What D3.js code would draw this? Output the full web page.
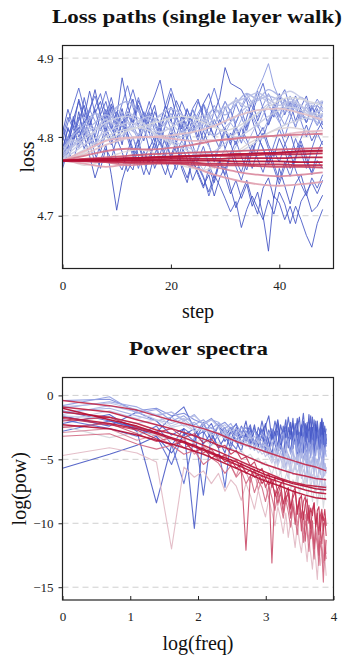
<!DOCTYPE html>
<html>
<head>
<meta charset="utf-8">
<script src="https://cdn.jsdelivr.net/npm/d3@7"></script>
<style>
body { margin: 0; background: #fff; }
svg { display: block; }
</style>
</head>
<body>
<div id="chart"></div>
<script>
// ---------- loss paths (top) ----------
var lossSteps = [0,1,2,3,4,5,6,7,8,9,10,11,12,13,14,15,16,17,18,19,20,21,22,23,24,25,26,27,28,29,30,31,32,33,34,35,36,37,38,39,40,41,42,43,44,45,46,47,48];
var lossHalfSteps = [0,2,4,6,8,10,12,14,16,18,20,22,24,26,28,30,32,34,36,38,40,42,44,46,48];
var lossKnotSteps = [0,4,8,12,16,20,24,28,32,36,40,44,48];
var lossTicks = [4.7, 4.8, 4.9];
var stepTicks = [0, 20, 40];

// jagged walks (one value per step)
var lossNoisyT = [0.0, 0.01, 0.02, 0.03, 0.04, 0.05, 0.07, 0.09, 0.11, 0.13, 0.08, 0.14, 0.18, 0.23, 0.27, 0.31];
var lossNoisy = [
  [4.780,4.812,4.795,4.832,4.801,4.776,4.748,4.770,4.790,4.752, 4.707,4.745,4.768,4.758,4.790,4.812,4.785,4.801,4.770,4.752, 4.776,4.795,4.760,4.742,4.771,4.755,4.738,4.752,4.725,4.748, 4.762,4.735,4.710,4.728,4.745,4.720,4.702,4.735,4.748,4.722, 4.760,4.738,4.715,4.741,4.752,4.728,4.705,4.712,4.726],
  [4.800,4.785,4.822,4.845,4.818,4.832,4.860,4.828,4.805,4.838, 4.815,4.790,4.826,4.848,4.812,4.795,4.822,4.840,4.808,4.830, 4.855,4.826,4.810,4.835,4.818,4.800,4.842,4.855,4.830,4.850, 4.888,4.868,4.864,4.860,4.846,4.822,4.800,4.812,4.790,4.775, 4.798,4.782,4.760,4.775,4.790,4.768,4.755,4.780,4.795],
  [4.770,4.792,4.815,4.788,4.802,4.826,4.798,4.781,4.805,4.790, 4.812,4.836,4.804,4.780,4.796,4.770,4.788,4.760,4.778,4.801, 4.772,4.790,4.765,4.748,4.770,4.752,4.735,4.760,4.742,4.768, 4.750,4.728,4.745,4.722,4.740,4.712,4.730,4.700,4.655,4.725, 4.716,4.695,4.712,4.690,4.718,4.730,4.742,4.728,4.745],
  [4.790,4.770,4.795,4.812,4.785,4.803,4.778,4.760,4.785,4.772, 4.798,4.781,4.756,4.772,4.790,4.768,4.752,4.778,4.795,4.770, 4.748,4.766,4.788,4.772,4.745,4.762,4.748,4.730,4.752,4.738, 4.722,4.705,4.718,4.685,4.708,4.725,4.710,4.695,4.720,4.702, 4.730,4.715,4.690,4.712,4.695,4.675,4.660,4.690,4.708],
  [4.805,4.835,4.812,4.848,4.825,4.858,4.830,4.845,4.818,4.842, 4.826,4.875,4.840,4.818,4.846,4.828,4.805,4.832,4.815,4.840, 4.822,4.800,4.826,4.810,4.835,4.818,4.795,4.815,4.800,4.822, 4.808,4.790,4.812,4.798,4.825,4.846,4.820,4.838,4.815,4.832, 4.855,4.828,4.845,4.820,4.838,4.852,4.826,4.840,4.832],
  [4.785,4.810,4.795,4.822,4.840,4.815,4.835,4.808,4.826,4.850, 4.822,4.805,4.832,4.815,4.840,4.818,4.835,4.852,4.872,4.838, 4.820,4.846,4.830,4.812,4.836,4.848,4.825,4.802,4.822,4.808, 4.785,4.805,4.790,4.812,4.796,4.778,4.800,4.786,4.765,4.782, 4.768,4.790,4.805,4.782,4.798,4.815,4.795,4.808,4.820],
  [4.775,4.798,4.822,4.800,4.815,4.790,4.768,4.792,4.812,4.795, 4.770,4.758,4.782,4.800,4.776,4.752,4.775,4.792,4.768,4.785, 4.805,4.780,4.795,4.815,4.790,4.770,4.788,4.765,4.748,4.770, 4.758,4.780,4.762,4.745,4.768,4.790,4.772,4.755,4.778,4.760, 4.740,4.762,4.780,4.758,4.740,4.725,4.748,4.735,4.752],
  [4.795,4.818,4.840,4.862,4.835,4.812,4.838,4.855,4.828,4.810, 4.832,4.815,4.838,4.860,4.835,4.812,4.830,4.808,4.790,4.815, 4.838,4.822,4.845,4.828,4.806,4.825,4.842,4.818,4.800,4.785, 4.808,4.795,4.818,4.835,4.812,4.830,4.850,4.868,4.842,4.825, 4.848,4.860,4.838,4.852,4.835,4.818,4.840,4.825,4.810],
  [4.760,4.782,4.770,4.795,4.820,4.805,4.790,4.815,4.835,4.812, 4.796,4.820,4.805,4.785,4.760,4.782,4.768,4.795,4.815,4.792, 4.775,4.758,4.780,4.800,4.782,4.765,4.750,4.725,4.745,4.770, 4.752,4.778,4.795,4.775,4.758,4.782,4.802,4.785,4.768,4.790, 4.810,4.792,4.775,4.798,4.780,4.760,4.785,4.805,4.790],
  [4.800,4.825,4.810,4.790,4.812,4.836,4.852,4.828,4.812,4.795, 4.820,4.842,4.865,4.838,4.815,4.832,4.812,4.795,4.818,4.840, 4.862,4.840,4.818,4.800,4.822,4.845,4.828,4.810,4.832,4.815, 4.838,4.820,4.842,4.825,4.808,4.830,4.815,4.798,4.820,4.842, 4.825,4.848,4.830,4.812,4.835,4.818,4.838,4.822,4.845],
  [4.815,4.790,4.826,4.805,4.850,4.822,4.800,4.828,4.845,4.818, 4.795,4.820,4.798,4.775,4.800,4.822,4.845,4.820,4.798,4.776, 4.800,4.825,4.805,4.785,4.762,4.785,4.808,4.790,4.768,4.790, 4.812,4.792,4.770,4.755,4.778,4.760,4.782,4.805,4.785,4.765, 4.745,4.768,4.750,4.772,4.795,4.775,4.752,4.770,4.760],
  [4.765,4.780,4.802,4.825,4.808,4.790,4.812,4.835,4.858,4.832, 4.810,4.830,4.808,4.826,4.850,4.828,4.805,4.785,4.806,4.828, 4.810,4.792,4.815,4.836,4.815,4.795,4.818,4.840,4.862,4.838, 4.816,4.835,4.812,4.792,4.815,4.835,4.858,4.836,4.815,4.838, 4.820,4.800,4.822,4.842,4.820,4.800,4.818,4.836,4.815],
  [4.785,4.800,4.815,4.805,4.822,4.835,4.820,4.808,4.825,4.840, 4.826,4.812,4.828,4.815,4.800,4.818,4.832,4.820,4.805,4.792, 4.810,4.825,4.812,4.798,4.815,4.830,4.842,4.828,4.815,4.830, 4.845,4.832,4.818,4.835,4.850,4.838,4.825,4.840,4.855,4.842, 4.828,4.815,4.832,4.845,4.830,4.818,4.835,4.848,4.836],
  [4.775,4.790,4.805,4.795,4.812,4.800,4.788,4.802,4.818,4.806, 4.792,4.808,4.822,4.810,4.796,4.812,4.826,4.814,4.800,4.815, 4.830,4.818,4.805,4.820,4.835,4.822,4.810,4.826,4.840,4.828, 4.845,4.832,4.850,4.838,4.855,4.842,4.860,4.875,4.893,4.865, 4.848,4.835,4.852,4.838,4.825,4.842,4.828,4.815,4.830],
  [4.770,4.782,4.795,4.786,4.800,4.812,4.803,4.790,4.805,4.818, 4.808,4.795,4.810,4.798,4.785,4.800,4.812,4.802,4.790,4.778, 4.792,4.805,4.795,4.782,4.770,4.785,4.798,4.788,4.775,4.790, 4.805,4.818,4.808,4.822,4.835,4.825,4.812,4.828,4.840,4.830, 4.818,4.832,4.845,4.835,4.822,4.838,4.826,4.814,4.828],
  [4.780,4.792,4.805,4.815,4.808,4.820,4.830,4.822,4.812,4.825, 4.836,4.828,4.818,4.808,4.820,4.810,4.798,4.808,4.795,4.785, 4.796,4.786,4.775,4.765,4.778,4.768,4.758,4.770,4.760,4.772, 4.785,4.775,4.788,4.800,4.790,4.805,4.818,4.808,4.822,4.835, 4.825,4.838,4.828,4.815,4.826,4.838,4.828,4.818,4.826]
];

// wavy walks (every second step)
var lossWavyT = [0.30, 0.33, 0.36, 0.38, 0.40, 0.42, 0.44, 0.48, 0.52];
var lossWavy = [
  [4.785,4.802,4.815,4.830,4.822,4.838,4.845,4.832,4.820,4.812,4.825,4.818,4.810,4.822,4.835,4.828,4.842,4.855,4.848,4.860,4.852,4.840,4.850,4.838,4.845],
  [4.778,4.790,4.806,4.818,4.828,4.820,4.812,4.804,4.815,4.828,4.836,4.828,4.818,4.810,4.802,4.812,4.826,4.838,4.846,4.852,4.846,4.836,4.828,4.822,4.830],
  [4.775,4.788,4.800,4.812,4.805,4.798,4.808,4.820,4.826,4.818,4.808,4.800,4.806,4.818,4.830,4.838,4.845,4.850,4.856,4.848,4.840,4.845,4.838,4.830,4.835],
  [4.780,4.796,4.790,4.808,4.822,4.815,4.830,4.824,4.812,4.826,4.818,4.805,4.815,4.828,4.820,4.835,4.846,4.838,4.852,4.844,4.836,4.848,4.840,4.828,4.838],
  [4.772,4.780,4.790,4.798,4.806,4.812,4.818,4.815,4.808,4.800,4.795,4.790,4.784,4.778,4.782,4.792,4.805,4.818,4.830,4.842,4.852,4.858,4.850,4.842,4.846],
  [4.772,4.784,4.796,4.808,4.818,4.824,4.826,4.820,4.812,4.806,4.812,4.820,4.826,4.822,4.814,4.806,4.800,4.806,4.816,4.826,4.834,4.838,4.834,4.826,4.820],
  [4.770,4.776,4.784,4.792,4.800,4.806,4.810,4.812,4.808,4.800,4.792,4.786,4.780,4.775,4.770,4.772,4.778,4.786,4.795,4.805,4.812,4.818,4.822,4.826,4.830],
  [4.770,4.774,4.780,4.788,4.796,4.802,4.808,4.812,4.816,4.820,4.824,4.826,4.824,4.818,4.812,4.808,4.812,4.820,4.830,4.838,4.846,4.850,4.848,4.844,4.840],
  [4.770,4.768,4.764,4.766,4.772,4.778,4.782,4.784,4.782,4.776,4.770,4.764,4.760,4.758,4.762,4.770,4.780,4.790,4.798,4.805,4.810,4.812,4.810,4.806,4.802]
];

// smooth walks (every fourth step)
var lossSmoothT = [0.58, 0.62, 0.66, 0.70, 0.74, 0.80, 0.84, 0.87, 0.90, 0.93, 0.96, 0.98, 1.0];
var lossSmooth = [
  [4.770,4.778,4.790,4.798,4.800,4.802,4.806,4.814,4.826,4.834,4.836,4.830,4.822],
  [4.770,4.782,4.795,4.799,4.800,4.798,4.795,4.796,4.798,4.800,4.802,4.806,4.808],
  [4.770,4.766,4.762,4.766,4.772,4.770,4.762,4.752,4.745,4.740,4.738,4.740,4.743],
  [4.770,4.772,4.768,4.764,4.766,4.770,4.768,4.762,4.756,4.752,4.750,4.752,4.755],
  [4.770,4.776,4.782,4.785,4.784,4.786,4.790,4.795,4.798,4.800,4.802,4.803,4.804],
  [4.770,4.772,4.774,4.776,4.778,4.779,4.780,4.781,4.782,4.783,4.784,4.785,4.786],
  [4.770,4.769,4.768,4.767,4.766,4.766,4.765,4.764,4.764,4.763,4.762,4.762,4.761],
  [4.770,4.771,4.772,4.773,4.774,4.775,4.776,4.777,4.778,4.779,4.780,4.781,4.782],
  [4.770,4.770,4.769,4.768,4.768,4.767,4.767,4.766,4.766,4.765,4.765,4.764,4.764],
  [4.770,4.771,4.772,4.772,4.773,4.774,4.775,4.776,4.776,4.777,4.778,4.778,4.779],
  [4.770,4.770,4.771,4.771,4.771,4.772,4.772,4.772,4.773,4.773,4.773,4.774,4.774],
  [4.770,4.771,4.772,4.773,4.774,4.775,4.776,4.777,4.778,4.779,4.780,4.782,4.783],
  [4.770,4.770,4.770,4.770,4.770,4.770,4.770,4.770,4.769,4.769,4.769,4.768,4.768]
];

// ---------- power spectra (bottom) ----------
var specFreqs = [1,2,3,4,5,6,7,8,9,10,11,12,13,14,15,16,17,18,19,20,21,22,23,24,25,26,27,28,29,30,31,32,33,34,35,36,37,38,39,40,41,42,43,44,45,46,47,48,49];
var specKnotFreqs = [1,2,3,4,5,6,8,10,13,16,20,25,30,36,42,49];
var powTicks = [-15, -10, -5, 0];
var freqTicks = [0, 1, 2, 3, 4];

var specNoisyT = [0.0, 0.02, 0.04, 0.06, 0.09, 0.12, 0.18, 0.24, 0.27, 0.30, 0.33, 0.36, 0.39, 0.42, 0.48, 0.60, 0.70, 0.76, 0.82, 0.86, 0.90];
var specNoisy = [
  [-5.7,-4.6,-3.9,-3.2,-4.5,-3.1,-2.6,-3.8,-2.9,-4.1, -3.3,-2.5,-3.6,-4.4,-2.8,-3.5,-2.3,-4.0,-3.1,-2.2, -3.7,-4.6,-2.9,-1.9,-3.4,-4.8,-2.7,-3.6,-2.1,-4.2, -3.0,-1.8,-3.9,-2.6,-4.5,-2.2,-3.3,-1.5,-3.8,-2.5, -4.7,-2.0,-3.4,-2.8,-4.1,-1.9,-3.5,-2.4,-3.6],
  [-2.2,-1.5,-2.8,-8.4,-3.9,-2.6,-3.2,-2.1,-3.5,-2.4, -3.0,-4.2,-2.5,-3.3,-2.0,-3.8,-2.7,-3.1,-4.3,-2.4, -1.6,-3.4,-2.8,-4.0,-2.3,-3.2,-1.9,-4.1,-3.0,-2.2, -3.7,-2.6,-1.7,-3.5,-2.9,-4.4,-2.1,-3.0,-1.6,-3.6, -2.5,-4.0,-2.0,-3.3,-2.7,-1.8,-4.2,-2.9,-3.8],
  [-1.6,-2.4,-1.3,-2.0,-3.1,-2.6,-10.4,-3.0,-2.2,-3.4, -4.5,-2.8,-3.7,-2.4,-3.1,-4.0,-2.6,-3.5,-2.0,-3.3, -4.2,-2.7,-3.6,-2.2,-3.9,-2.9,-4.6,-2.5,-3.4,-1.8, -3.8,-2.7,-4.1,-3.0,-2.0,-3.6,-2.4,-4.3,-2.9,-1.7, -3.5,-2.3,-4.0,-3.1,-2.1,-3.7,-2.6,-4.4,-3.0],
  [-1.2,-2.0,-2.5,-2.9,-1.7,-0.9,-2.6,-7.8,-3.1,-2.4, -3.6,-2.8,-2.2,-3.8,-3.0,-2.3,-3.9,-2.5,-3.2,-4.1, -2.7,-3.5,-2.0,-3.0,-4.0,-2.4,-3.3,-1.7,-2.9,-3.7, -2.2,-3.4,-4.6,-2.6,-1.4,-3.1,-2.3,-3.9,-2.8,-3.5, -1.9,-3.2,-2.5,-4.2,-2.7,-3.6,-2.1,-3.3,-2.6],
  [-2.8,-2.0,-2.6,-3.2,-5.4,-2.9,-3.6,-2.3,-3.0,-4.1, -7.2,-3.4,-2.6,-3.9,-3.1,-2.5,-4.3,-3.3,-2.7,-3.8, -4.6,-3.0,-3.6,-2.8,-4.2,-3.2,-2.4,-3.7,-4.4,-2.9, -3.5,-4.8,-3.1,-2.3,-3.9,-2.8,-4.1,-3.4,-2.5,-3.8, -4.5,-2.9,-3.3,-4.0,-2.6,-3.6,-4.3,-3.0,-3.5],
  [-1.9,-2.6,-3.2,-2.4,-3.8,-6.9,-3.3,-2.8,-3.9,-3.1, -2.5,-3.7,-4.2,-3.0,-3.6,-2.7,-4.0,-3.2,-2.6,-4.4, -3.4,-2.9,-3.8,-4.6,-3.1,-2.7,-3.9,-3.3,-4.5,-2.8, -3.5,-4.1,-2.9,-3.7,-4.3,-3.2,-2.6,-3.9,-4.7,-3.0, -3.6,-2.8,-4.2,-3.4,-4.6,-3.1,-3.8,-2.9,-4.0],
  [-0.4,-0.3,-1.2,-1.0,-1.6,-1.4,-1.9,-2.2,-1.8,-2.4, -2.1,-2.6,-2.3,-2.9,-2.5,-3.1,-2.7,-3.3,-2.8,-3.5, -3.0,-2.6,-3.4,-2.9,-3.7,-3.2,-2.8,-3.6,-3.1,-3.9, -2.6,-4.2,-3.0,-4.8,-2.4,-3.9,-4.6,-2.8,-4.4,-3.2, -2.5,-4.7,-3.4,-2.7,-4.5,-3.1,-4.9,-2.9,-3.8],
  [-0.8,-0.1,-1.4,-1.1,-2.0,-1.6,-2.3,-1.9,-2.6,-2.2, -2.9,-2.5,-3.2,-2.8,-3.5,-3.0,-3.7,-3.3,-4.0,-3.5, -4.2,-3.8,-3.4,-4.3,-3.9,-4.6,-4.1,-3.7,-4.5,-4.0, -3.6,-5.4,-4.0,-3.2,-5.1,-4.3,-5.8,-3.7,-4.9,-3.5, -5.5,-4.2,-3.4,-5.2,-4.6,-3.8,-5.7,-4.1,-4.8],
  [-1.0,-0.5,-0.9,-1.6,-1.3,-2.0,-1.5,-2.3,-1.9,-2.1, -2.6,-2.2,-3.0,-2.5,-2.8,-3.3,-2.7,-3.6,-3.0,-3.4, -2.9,-3.9,-3.2,-4.3,-3.5,-2.9,-4.1,-3.4,-4.6,-3.6, -3.1,-4.4,-3.8,-4.9,-3.3,-4.2,-5.0,-3.7,-4.5,-3.9, -5.2,-4.0,-3.6,-4.8,-4.2,-5.3,-3.9,-4.6,-4.3],
  [-1.3,-1.0,-1.6,-2.0,-1.7,-2.4,-2.1,-2.8,-2.5,-3.1, -2.7,-3.4,-3.0,-3.7,-3.3,-3.9,-3.5,-4.2,-3.8,-4.4, -4.0,-4.9,-4.1,-5.3,-4.4,-4.2,-5.6,-4.6,-5.1,-4.3, -5.8,-4.9,-4.5,-5.9,-5.2,-4.7,-6.2,-5.0,-5.6,-4.8, -6.3,-5.4,-5.0,-6.1,-5.5,-4.9,-6.4,-5.3,-5.8],
  [-1.5,-0.8,-1.3,-1.9,-2.2,-1.8,-2.6,-2.3,-2.9,-2.5, -3.2,-2.8,-3.4,-3.1,-3.7,-3.3,-4.0,-3.5,-4.2,-3.8, -4.5,-3.7,-4.8,-4.1,-4.4,-5.1,-4.0,-4.7,-5.4,-4.3, -5.0,-4.6,-5.6,-4.5,-5.2,-4.8,-5.9,-4.7,-5.3,-5.0, -6.0,-4.9,-5.5,-5.2,-6.2,-5.0,-5.7,-5.3,-6.1],
  [-0.9,-0.6,-1.1,-1.5,-1.3,-1.9,-1.6,-2.2,-1.9,-2.5, -2.3,-2.8,-2.6,-3.1,-2.9,-3.4,-3.2,-3.7,-3.5,-4.0, -4.1,-4.6,-5.4,-4.3,-4.9,-5.7,-4.5,-5.2,-6.0,-4.9, -5.5,-4.8,-6.1,-5.3,-5.0,-6.4,-5.6,-5.1,-6.6,-5.4, -6.0,-5.2,-6.8,-5.7,-5.3,-6.9,-5.9,-6.3,-5.6],
  [-2.0,-1.2,-1.8,-1.5,-2.4,-2.0,-2.8,-2.5,-3.0,-3.3, -2.9,-3.6,-3.4,-3.9,-3.6,-4.2,-3.9,-4.5,-4.1,-4.8, -4.4,-5.1,-4.6,-5.5,-4.9,-5.3,-5.9,-5.0,-5.7,-6.2, -5.4,-6.0,-5.6,-6.5,-5.8,-6.3,-6.9,-5.9,-6.6,-6.2, -7.1,-6.3,-6.8,-7.3,-6.5,-7.0,-7.6,-6.8,-7.2],
  [-1.6,-1.8,-2.2,-1.9,-2.5,-2.3,-2.8,-2.6,-3.1,-2.9, -3.4,-3.2,-3.7,-3.5,-4.0,-3.8,-4.3,-4.1,-4.6,-4.4, -4.8,-5.3,-4.6,-5.6,-6.1,-5.0,-5.8,-6.5,-5.4,-6.0, -5.2,-6.8,-6.2,-5.6,-7.0,-6.1,-6.6,-5.8,-7.3,-6.4, -6.0,-7.5,-6.7,-6.2,-7.6,-6.8,-7.2,-6.5,-7.4],
  [-2.4,-3.3,-2.9,-3.1,-3.5,-3.2,-3.7,-3.4,-3.9,-3.7, -4.2,-4.0,-4.5,-4.3,-4.8,-4.6,-5.1,-4.9,-5.4,-5.2, -5.6,-6.2,-5.4,-6.6,-5.9,-7.1,-6.3,-5.8,-7.4,-6.6, -7.0,-6.1,-7.8,-6.8,-7.3,-6.5,-8.1,-7.2,-6.9,-8.3, -7.5,-7.0,-8.6,-7.6,-8.0,-7.3,-8.8,-7.8,-8.2],
  [-4.7,-4.1,-4.5,-5.2,-12.0,-5.6,-6.4,-5.9,-6.9,-6.1, -7.5,-6.6,-7.1,-8.2,-6.9,-7.8,-8.9,-7.4,-8.6,-9.5, -8.1,-9.1,-10.2,-8.7,-9.6,-10.8,-9.2,-11.1,-9.8,-10.6, -11.9,-10.1,-11.4,-12.3,-10.8,-11.7,-13.0,-11.2,-12.4,-13.6, -11.8,-12.9,-14.4,-12.2,-13.3,-11.9,-13.8,-12.6,-14.1],
  [-2.9,-2.6,-3.5,-3.1,-3.9,-3.4,-4.6,-4.0,-4.4,-5.1, -4.7,-5.5,-6.3,-5.2,-6.0,-6.8,-5.9,-7.4,-6.5,-7.0, -8.1,-6.9,-7.6,-8.6,-7.4,-8.9,-7.9,-8.4,-9.5,-8.2, -9.1,-10.2,-8.8,-9.6,-10.8,-9.3,-10.1,-11.4,-9.9,-10.6, -12.0,-10.4,-11.2,-12.6,-10.9,-11.7,-13.1,-11.3,-12.4],
  [-3.2,-3.0,-3.8,-4.2,-3.9,-4.6,-4.3,-5.4,-4.9,-5.3, -6.1,-5.5,-6.4,-5.9,-6.9,-6.3,-7.6,-6.7,-7.2,-8.3, -7.1,-8.0,-9.0,-7.7,-8.5,-9.6,-8.2,-9.1,-10.3,-8.7, -9.5,-10.9,-9.2,-10.0,-11.5,-9.8,-10.6,-12.2,-10.3,-11.1, -12.8,-10.8,-11.7,-13.3,-11.4,-12.2,-14.6,-11.9,-12.8],
  [-2.5,-2.2,-3.0,-3.6,-3.3,-4.1,-3.8,-4.5,-4.2,-5.0, -4.6,-5.4,-5.0,-5.9,-12.1,-6.3,-5.8,-6.7,-6.2,-7.2, -6.6,-13.1,-7.4,-8.4,-7.6,-9.2,-8.0,-7.7,-9.6,-8.5, -10.1,-8.8,-8.3,-10.6,-9.1,-11.4,-9.5,-9.0,-11.2,-9.8, -12.0,-10.1,-9.6,-12.5,-10.4,-11.6,-10.0,-12.9,-11.3],
  [-2.0,-1.7,-2.5,-2.9,-2.6,-3.3,-3.0,-3.7,-3.4,-4.1, -3.9,-4.6,-4.3,-5.0,-4.8,-5.5,-5.2,-6.0,-5.7,-6.5, -6.1,-7.2,-6.4,-7.8,-7.0,-6.6,-8.3,-7.4,-8.9,-7.6, -7.2,-9.1,-8.0,-9.6,-8.3,-7.9,-9.8,-8.6,-10.4,-8.9, -8.4,-10.1,-9.2,-10.9,-9.4,-8.9,-10.6,-9.6,-11.0],
  [-1.8,-2.3,-2.7,-3.4,-3.9,-3.6,-4.4,-4.1,-4.9,-4.6, -5.2,-5.0,-5.7,-5.4,-6.1,-5.8,-6.4,-6.2,-6.9,-6.5, -7.0,-6.6,-7.9,-7.3,-6.9,-8.5,-7.6,-7.2,-8.8,-8.0, -7.5,-9.3,-8.2,-7.8,-9.7,-8.5,-8.1,-10.0,-8.8,-9.4, -8.4,-10.3,-9.0,-8.7,-10.6,-9.2,-9.8,-8.9,-10.2]
];

var specSmoothT = [0.90, 0.93, 0.95, 0.97, 0.99, 1.0];
var specSmooth = [
  [-0.4,-0.8,-1.15,-1.6,-1.95,-2.2,-2.6,-3.0,-3.6,-4.0,-4.4,-4.8,-5.1,-5.4,-5.6,-5.9],
  [-0.9,-1.3,-1.9,-2.3,-2.6,-2.9,-3.4,-3.9,-4.4,-4.9,-5.4,-5.8,-6.1,-6.3,-6.5,-6.6],
  [-1.3,-1.7,-2.2,-2.7,-3.0,-3.3,-3.9,-4.4,-5.0,-5.5,-6.0,-6.5,-6.8,-7.0,-7.1,-7.2],
  [-1.7,-2.2,-2.6,-3.0,-3.4,-3.7,-4.3,-4.8,-5.4,-5.9,-6.4,-6.8,-7.1,-7.4,-7.6,-7.7],
  [-2.3,-2.6,-3.1,-3.5,-3.8,-4.1,-4.6,-5.1,-5.7,-6.2,-6.7,-7.1,-7.5,-7.8,-8.0,-8.1],
  [-1.0,-1.9,-2.4,-2.9,-3.3,-3.6,-4.2,-4.7,-5.2,-5.7,-6.2,-6.6,-6.9,-7.1,-7.3,-7.4]
];

// colour ramp, blue (jagged) -> grey -> red (smooth)
var rampStops = [0, 0.12, 0.25, 0.4, 0.5, 0.62, 0.75, 0.88, 1];
var rampColors = ["#3b4cc0", "#5366d0", "#96a3e2", "#c4c9e6", "#dadada", "#e4b4c0", "#d47088", "#c43454", "#b40a30"];
var color = d3.scaleLinear().domain(rampStops).range(rampColors).interpolate(d3.interpolateRgb);

var W = 343, H = 655;
var svg = d3.select("#chart").append("svg")
    .attr("width", W)
    .attr("height", H);

var serif = "'Liberation Serif', 'Times New Roman', serif";

function buildSeries(xsArr, groups) {
  var out = [];
  groups.forEach(function(g) {
    g.values.forEach(function(ys, i) {
      out.push({
        t: g.t[i],
        curve: g.curve,
        width: g.width,
        pts: ys.map(function(y, j) { return [xsArr[g.xKey][j], y]; })
      });
    });
  });
  out.sort(function(a, b) { return a.t - b.t; });
  return out;
}

function drawPanel(p) {
  var x = d3.scaleLinear().domain(p.xDomain).range([p.left, p.right]);
  var y = d3.scaleLinear().domain(p.yDomain).range([p.bottom, p.top]);
  var g = svg.append("g");

  // dashed horizontal grid
  g.append("g").selectAll("line")
    .data(p.yTicks)
    .enter().append("line")
    .attr("x1", p.left).attr("x2", p.right)
    .attr("y1", function(d) { return y(d); })
    .attr("y2", function(d) { return y(d); })
    .attr("stroke", "#cfcfcf")
    .attr("stroke-width", 1)
    .attr("stroke-dasharray", "6,4");

  // lines
  g.append("g").selectAll("path")
    .data(p.series)
    .enter().append("path")
    .attr("fill", "none")
    .attr("stroke", function(d) { return color(d.t); })
    .attr("stroke-width", function(d) { return d.width; })
    .attr("stroke-opacity", function(d) { return d.t < 0.2 ? 0.85 : 0.92; })
    .attr("stroke-linejoin", "round")
    .attr("d", function(d) {
      return d3.line()
        .x(function(v) { return x(p.xMap(v[0])); })
        .y(function(v) { return y(v[1]); })
        .curve(d.curve)(d.pts);
    });

  // frame
  g.append("rect")
    .attr("x", p.left).attr("y", p.top)
    .attr("width", p.right - p.left)
    .attr("height", p.bottom - p.top)
    .attr("fill", "none")
    .attr("stroke", "#222")
    .attr("stroke-width", 1.2);

  var yAxis = g.append("g")
    .attr("transform", "translate(" + p.left + ",0)")
    .call(d3.axisLeft(y).tickValues(p.yTicks).tickSize(4).tickPadding(5).tickFormat(p.yFormat));
  var xAxis = g.append("g")
    .attr("transform", "translate(0," + p.bottom + ")")
    .call(d3.axisBottom(x).tickValues(p.xTicks).tickSize(-4).tickPadding(12).tickFormat(d3.format("d")));
  [xAxis, yAxis].forEach(function(a) {
    a.select(".domain").remove();
    a.selectAll("line").attr("stroke", "#222");
    a.selectAll("text")
      .attr("font-family", serif)
      .attr("font-size", 13)
      .attr("fill", "#222");
  });

  svg.append("text")
    .attr("x", p.titleX).attr("y", p.titleY)
    .attr("text-anchor", "middle")
    .attr("font-family", serif)
    .attr("font-weight", "bold")
    .attr("font-size", 18)
    .attr("textLength", p.titleLen)
    .attr("lengthAdjust", "spacingAndGlyphs")
    .attr("fill", "#111")
    .text(p.title);

  svg.append("text")
    .attr("x", (p.left + p.right) / 2).attr("y", p.xLabelY)
    .attr("text-anchor", "middle")
    .attr("font-family", serif)
    .attr("font-size", 20)
    .attr("fill", "#111")
    .text(p.xLabel);

  svg.append("text")
    .attr("transform", "translate(" + p.yLabelX + "," + (p.top + p.bottom) / 2 + ") rotate(-90)")
    .attr("text-anchor", "middle")
    .attr("font-family", serif)
    .attr("font-size", 20)
    .attr("fill", "#111")
    .text(p.yLabel);
}

var lossSeries = buildSeries(
  { full: lossSteps, half: lossHalfSteps, knot: lossKnotSteps },
  [
    { values: lossNoisy, t: lossNoisyT, xKey: "full", curve: d3.curveLinear, width: 1 },
    { values: lossWavy, t: lossWavyT, xKey: "half", curve: d3.curveMonotoneX, width: 1.4 },
    { values: lossSmooth, t: lossSmoothT, xKey: "knot", curve: d3.curveMonotoneX, width: 1.8 }
  ]);

drawPanel({
  left: 62.5, right: 333.5, top: 45.5, bottom: 268.5,
  xDomain: [0, 50], yDomain: [4.633, 4.916],
  xMap: function(v) { return v; },
  xTicks: stepTicks, yTicks: lossTicks, yFormat: d3.format(".1f"),
  series: lossSeries,
  title: "Loss paths (single layer walk)", titleX: 197, titleY: 23, titleLen: 290,
  xLabel: "step", xLabelY: 318,
  yLabel: "loss", yLabelX: 34
});

var specSeries = buildSeries(
  { full: specFreqs, knot: specKnotFreqs },
  [
    { values: specNoisy, t: specNoisyT, xKey: "full", curve: d3.curveLinear, width: 1.1 },
    { values: specSmooth, t: specSmoothT, xKey: "knot", curve: d3.curveLinear, width: 1.5 }
  ]);

drawPanel({
  left: 62.5, right: 333.5, top: 377.5, bottom: 600,
  xDomain: [0, 4], yDomain: [-16.0, 1.4],
  xMap: function(v) { return Math.log(v); },
  xTicks: freqTicks, yTicks: powTicks, yFormat: d3.format("d"),
  series: specSeries,
  title: "Power spectra", titleX: 198.5, titleY: 355, titleLen: 139,
  xLabel: "log(freq)", xLabelY: 650,
  yLabel: "log(pow)", yLabelX: 26
});
</script>
</body>
</html>
